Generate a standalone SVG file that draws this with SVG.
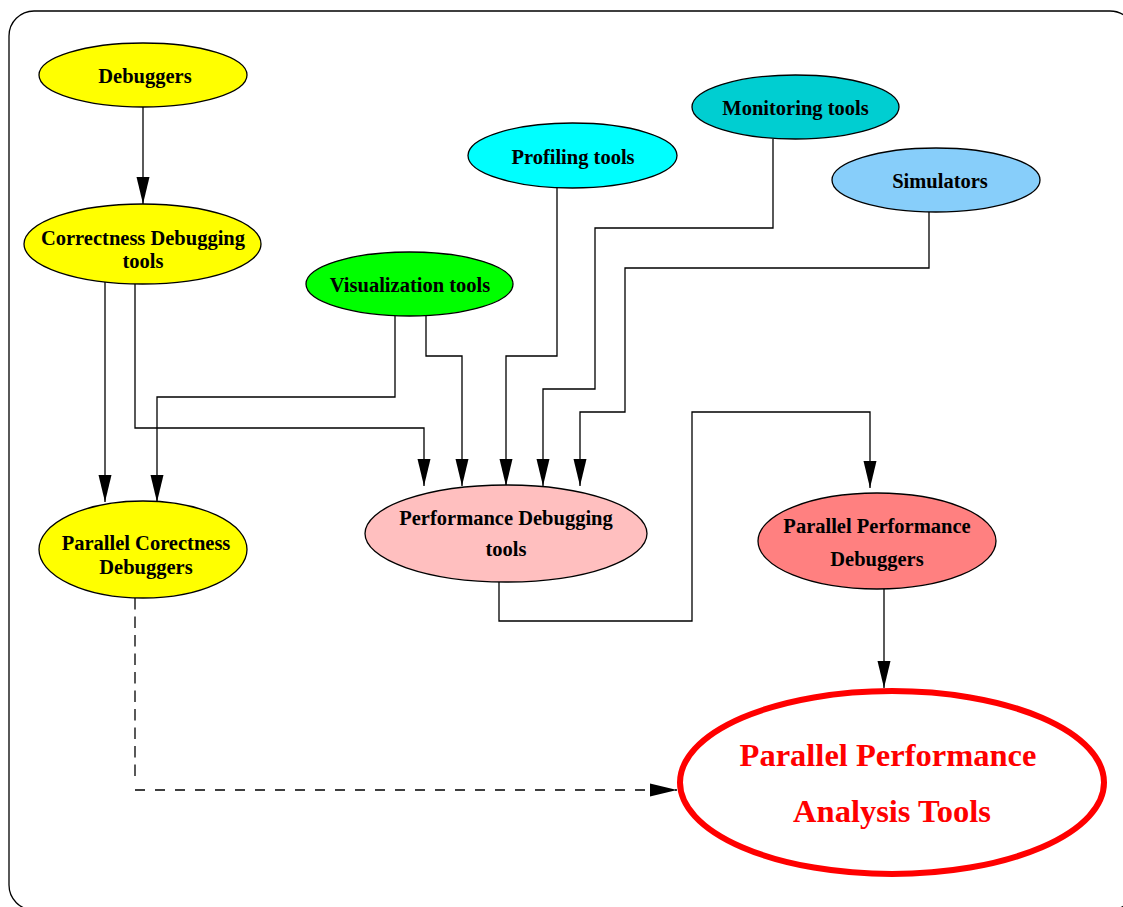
<svg xmlns="http://www.w3.org/2000/svg" width="1123" height="907" viewBox="0 0 1123 907">
  <style>
    .node { stroke: #000; stroke-width: 1.3; }
    .lbl { font-family: "Liberation Serif", "Times New Roman", serif; font-weight: bold; font-size: 20.5px; fill: #000; text-anchor: middle; }
    .big { font-family: "Liberation Serif", "Times New Roman", serif; font-weight: bold; font-size: 32.5px; fill: #ff0000; text-anchor: middle; }
    .edge { fill: none; stroke: #000; stroke-width: 1.3; marker-end: url(#arrow); }
  </style>
  <defs>
    <marker id="arrow" markerUnits="userSpaceOnUse" markerWidth="27" markerHeight="14" refX="27" refY="7" orient="auto">
      <path d="M0,0.5 L27,7 L0,13.5 Z" fill="#000"/>
    </marker>
  </defs>

  <rect x="9" y="11" width="1126" height="899" rx="25" ry="25" fill="#fff" stroke="#000" stroke-width="1.3"/>

  <g id="connectors">
    <path class="edge" d="M143,107 V204"/>
    <path class="edge" d="M105,282 V502"/>
    <path class="edge" d="M135,284 V428 H424 V486"/>
    <path class="edge" d="M395,316 V397 H157 V502"/>
    <path class="edge" d="M426,316 V356 H462 V486"/>
    <path class="edge" d="M557,188 V356 H506 V486"/>
    <path class="edge" d="M773,139 V228 H595 V389 H543 V486"/>
    <path class="edge" d="M929,212 V268 H625 V412 H580 V486"/>
    <path class="edge" d="M499,582 V621 H692 V412 H870 V488"/>
    <path class="edge" d="M884,589 V688"/>
    <path d="M135,598 V778" fill="none" stroke="#000" stroke-width="1.3" stroke-dasharray="11.5,7"/>
    <path d="M135,790 H677" fill="none" stroke="#000" stroke-width="1.3" stroke-dasharray="10,10" marker-end="url(#arrow)"/>
  </g>

  <g id="debuggers">
    <ellipse class="node" cx="143" cy="75" rx="104" ry="32" fill="#ffff00"/>
    <text class="lbl" x="145" y="83">Debuggers</text>
  </g>
  <g id="correctness-debugging-tools">
    <ellipse class="node" cx="142.5" cy="244" rx="118.5" ry="40" fill="#ffff00"/>
    <text class="lbl" x="143" y="245">Correctness Debugging</text>
    <text class="lbl" x="143" y="268">tools</text>
  </g>
  <g id="visualization-tools">
    <ellipse class="node" cx="409.5" cy="284" rx="103.5" ry="32" fill="#00ff00"/>
    <text class="lbl" x="410" y="292">Visualization tools</text>
  </g>
  <g id="profiling-tools">
    <ellipse class="node" cx="572.5" cy="155.5" rx="104.5" ry="32.5" fill="#00ffff"/>
    <text class="lbl" x="573" y="164">Profiling tools</text>
  </g>
  <g id="monitoring-tools">
    <ellipse class="node" cx="795.5" cy="107" rx="103.5" ry="32" fill="#00ced1"/>
    <text class="lbl" x="795.5" y="115">Monitoring tools</text>
  </g>
  <g id="simulators">
    <ellipse class="node" cx="936" cy="180" rx="104" ry="32" fill="#87cefa"/>
    <text class="lbl" x="940" y="188">Simulators</text>
  </g>
  <g id="parallel-correctness-debuggers">
    <ellipse class="node" cx="143" cy="549.5" rx="104" ry="48.5" fill="#ffff00"/>
    <text class="lbl" x="146" y="550">Parallel Corectness</text>
    <text class="lbl" x="146" y="574">Debuggers</text>
  </g>
  <g id="performance-debugging-tools">
    <ellipse class="node" cx="506" cy="533.5" rx="141" ry="48.5" fill="#ffbfbf"/>
    <text class="lbl" x="506" y="525">Performance Debugging</text>
    <text class="lbl" x="506" y="556">tools</text>
  </g>
  <g id="parallel-performance-debuggers">
    <ellipse class="node" cx="877" cy="541" rx="119" ry="48" fill="#ff8080"/>
    <text class="lbl" x="877" y="533">Parallel Performance</text>
    <text class="lbl" x="877" y="566">Debuggers</text>
  </g>
  <g id="parallel-performance-analysis-tools">
    <ellipse cx="892" cy="782.5" rx="212" ry="91.5" fill="#fff" stroke="#ff0000" stroke-width="6"/>
    <text class="big" x="888" y="766">Parallel Performance</text>
    <text class="big" x="892" y="822">Analysis Tools</text>
  </g>
</svg>
